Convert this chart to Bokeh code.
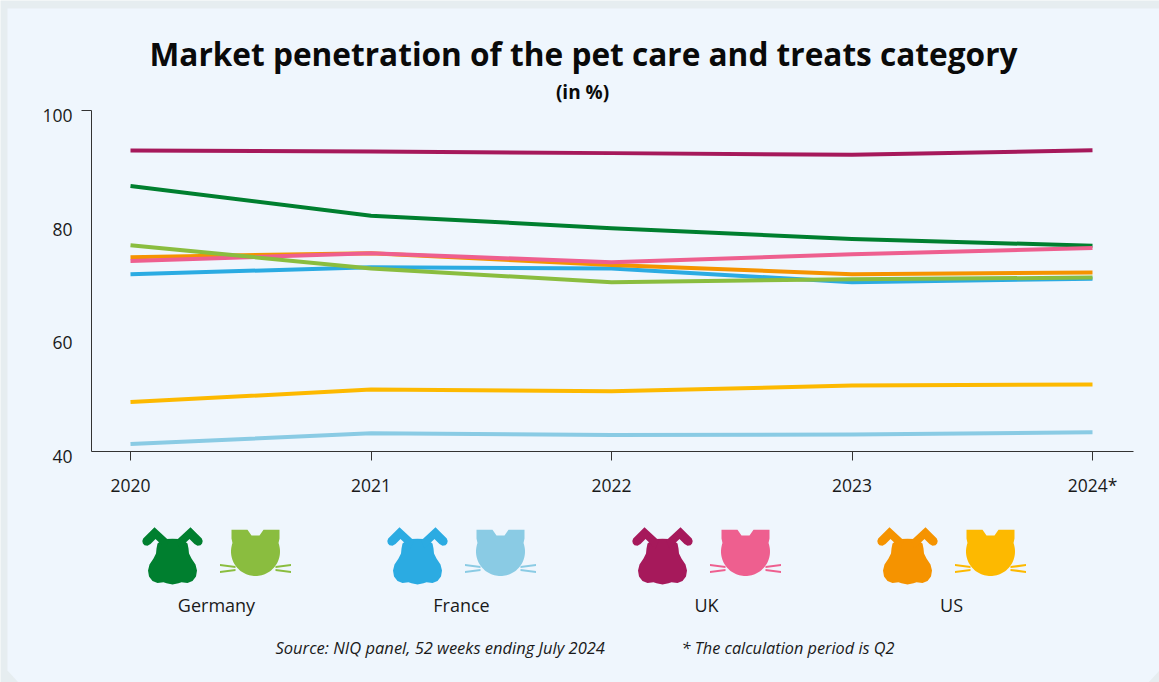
import numpy as np
from bokeh.core.properties import value
from bokeh.embed import file_html
from bokeh.models import FixedTicker, LinearAxis, Range1d
from bokeh.plotting import figure
from bokeh.resources import INLINE

W, H = 1159, 682
LEFT, RIGHT, TOP, BOTTOM = 91, 1133, 110, 451
FONT = "Open Sans"
INK = "#1A1A1A"

years = [2020, 2021, 2022, 2023, 2024]
year_labels = ["2020", "2021", "2022", "2023", "2024*"]
y_ticks = [40, 60, 80, 100]

germany_dog = [86.7, 81.5, 79.3, 77.4, 76.2]
germany_cat = [76.3, 72.2, 69.8, 70.3, 70.6]
france_dog = [71.2, 72.4, 72.2, 69.8, 70.4]
france_cat = [41.3, 43.2, 42.9, 43.0, 43.4]
uk_dog = [92.95, 92.8, 92.5, 92.2, 93.0]
uk_cat = [73.5, 74.9, 73.3, 74.7, 75.8]
us_dog = [74.2, 74.9, 72.8, 71.2, 71.5]
us_cat = [48.7, 50.9, 50.6, 51.6, 51.8]

GREEN_D, GREEN_C = "#007F2F", "#8ABD3F"
BLUE_D, BLUE_C = "#2BABE2", "#8ACBE4"
RED_D, RED_C = "#A6195B", "#EE5F8F"
ORANGE_D, ORANGE_C = "#F59300", "#FDB900"

# later series are painted over earlier ones
series = [
    (france_cat, BLUE_C), (us_cat, ORANGE_C), (uk_dog, RED_D), (germany_dog, GREEN_D),
    (france_dog, BLUE_D), (us_dog, ORANGE_D), (uk_cat, RED_C), (germany_cat, GREEN_C),
]
countries = [
    ("Germany", GREEN_D, GREEN_C, 142, 216),
    ("France", BLUE_D, BLUE_C, 387, 461),
    ("UK", RED_D, RED_C, 632, 706),
    ("US", ORANGE_D, ORANGE_C, 877, 951),
]

px_per_year = 240.5
px_per_unit = (BOTTOM - TOP) / 60
x_start = 2020 - 130 / px_per_year
y_start = 40 - (H - BOTTOM) / px_per_unit


def x_at(px):
    return x_start + px / px_per_year


# the frame fills the page, so the data scales run past the plot area
p = figure(
    width=W, height=H, output_backend="svg", toolbar_location=None,
    x_range=Range1d(x_start, x_start + W / px_per_year),
    y_range=Range1d(y_start, y_start + H / px_per_unit),
    x_axis_location=None, y_axis_location=None,
    min_border=0, border_fill_color="#E6EDF0", background_fill_color="#E6EDF0", outline_line_color=None,
)
p.grid.visible = False
p.extra_x_ranges["page"] = Range1d(0, W)
p.extra_y_ranges["page"] = Range1d(H, 0)
# tick labels hang slightly below their tick positions
label_shift = 5 / px_per_unit
p.extra_y_ranges["tick_labels"] = Range1d(y_start + label_shift, y_start + H / px_per_unit + label_shift)
page = dict(x_range_name="page", y_range_name="page")


def shape(xs, ys, color):
    p.patch(list(map(float, xs)), list(map(float, ys)), fill_color=color, line_color=None, **page)


def text(x, y, s, size, align="center", style="normal", color=INK):
    p.text([x], [y], text=[s], text_font=value(FONT), text_font_size=size, text_font_style=style,
           text_color=color, text_align=align, text_baseline="middle", **page)


def dog_icon(x0, color):
    cx = x0 + 30
    y0 = 520
    # head and jowls outline, one side mirrored onto the other
    half_x = np.array([0, 7, 11, 15, 16, 16.5, 19, 23, 24.5, 23.5, 20, 15, 9, 6, 0])
    half_y = np.array([18.3, 18.5, 20, 23, 28, 33, 38, 44, 50, 56, 60.5, 62.5, 61.8, 62.8, 64])
    shape(np.r_[cx + half_x, cx - half_x[::-1]], y0 + np.r_[half_y, half_y[::-1]], color)
    for s in (-1, 1):
        ear_x = np.array([-18, -29.3, -30.2, -29.6, -28, -25, -22, -17, -7, -3.7])
        ear_y = np.array([6.7, 18, 20.5, 23, 24.7, 25.3, 23.5, 18.5, 28, 20])
        shape(cx + s * ear_x, y0 + ear_y, color)


def cat_icon(x0, color):
    cx = x0 + 33
    y0 = 520
    t = np.radians(np.linspace(-20, 200, 61))
    head_x = np.r_[cx + 24.5 * np.cos(t),
                   [cx - 24, cx - 24, cx - 8, cx - 4, cx + 4, cx + 8, cx + 24, cx + 24]]
    head_y = np.r_[y0 + 31 + 24.5 * np.sin(t),
                   [y0 + 18, y0 + 9.3, y0 + 9.3, y0 + 15, y0 + 15, y0 + 9.3, y0 + 9.3, y0 + 18]]
    shape(head_x, head_y, color)
    for s in (-1, 1):
        for yo, yi in ((44.5, 46.5), (51.5, 49.5)):
            shape([cx + s * 35.5, cx + s * 20, cx + s * 20, cx + s * 35.5],
                  [y0 + yo - 1.1, y0 + yi - 1.1, y0 + yi + 1.1, y0 + yo + 1.1], color)


# sheet behind the chart, cut at its lower corners
shape([7, W, W, W - 11, 18, 7], [8, 8, H - 12, H, H, H - 12], "#EFF6FD")

for values, color in series:
    p.line(years, values, line_color=color, line_width=4, line_cap="butt", line_join="miter")

x_axis = LinearAxis(
    ticker=FixedTicker(ticks=years), bounds=(x_at(LEFT), x_at(RIGHT)), fixed_location=40,
    major_label_overrides=dict(zip(years, year_labels)),
    major_label_text_font=FONT, major_label_text_font_size="17.5px", major_label_text_color=INK,
    major_label_standoff=12, axis_line_color="#333333", axis_line_width=1,
    major_tick_line_color="#333333", major_tick_in=0, major_tick_out=9, minor_tick_out=0, minor_tick_in=0,
)
p.add_layout(x_axis, "below")

spine = LinearAxis(
    ticker=FixedTicker(ticks=[]), bounds=(40, 100), fixed_location=x_at(LEFT),
    axis_line_color="#333333", major_tick_line_color=None, minor_tick_line_color=None,
)
p.add_layout(spine, "left")
p.segment([x_at(LEFT - 10)], [100], [x_at(LEFT)], [100], line_color="#333333", line_width=1)

y_labels = LinearAxis(
    y_range_name="tick_labels", ticker=FixedTicker(ticks=y_ticks), fixed_location=x_at(LEFT),
    axis_line_color=None, major_tick_line_color=None, minor_tick_line_color=None,
    major_tick_in=0, major_tick_out=0, minor_tick_out=0, minor_tick_in=0,
    major_label_text_font=FONT, major_label_text_font_size="17.5px", major_label_text_color=INK,
    major_label_standoff=19,
)
p.add_layout(y_labels, "left")

text(583, 53, "Market penetration of the pet care and treats category", "31.6px", style="bold", color="#0A0A0A")
text(582, 91, "(in %)", "19px", style="bold", color="#0A0A0A")

for name, dog_color, cat_color, x0, label_x in countries:
    dog_icon(x0, dog_color)
    cat_icon(x0 + 80, cat_color)
    text(label_x, 604, name, "18px")

text(275, 647, "Source: NIQ panel, 52 weeks ending July 2024", "16.5px", align="left", style="italic")
text(681, 647, "* The calculation period is Q2", "16.3px", align="left", style="italic")

open("out.html", "w").write(file_html(p, INLINE))
